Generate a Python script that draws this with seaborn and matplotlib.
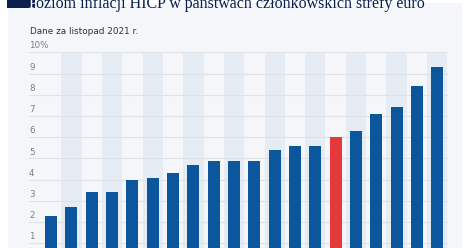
import matplotlib
matplotlib.use("Agg")
import matplotlib.pyplot as plt
import matplotlib.transforms as mtransforms
from matplotlib.patches import Rectangle
import seaborn as sns
import pandas as pd

# ---- data ----
countries = ["Malta", "Portugalia", "Francja", "Finlandia", "Grecja", "Włochy",
             "Cypr", "Słowacja", "Strefa euro", "Austria", "Słowenia", "Irlandia",
             "Hiszpania", "Holandia", "Niemcy", "Luksemburg", "Belgia", "Łotwa",
             "Estonia", "Litwa"]
hicp = [2.3, 2.7, 3.4, 3.4, 4.0, 4.1, 4.3, 4.7, 4.9, 4.9, 4.9, 5.4, 5.6, 5.6,
        6.0, 6.3, 7.1, 7.4, 8.4, 9.3]
highlight = "Niemcy"
y_ticks = [1, 2, 3, 4, 5, 6, 7, 8, 9, 10]
y_tick_labels = ["1", "2", "3", "4", "5", "6", "7", "8", "9", "10%"]
title = "Poziom inflacji HICP w państwach członkowskich strefy euro"
subtitle = "Dane za listopad 2021 r."

BLUE = "#0b569c"
RED = "#e5383d"
CARD = "#f4f6f9"
STRIPE = "#e6ecf3"
GRID = "#dfe3e8"

df = pd.DataFrame({"kraj": countries, "hicp": hicp})
df["grp"] = ["hl" if c == highlight else "n" for c in countries]

W, H = 474, 248
fig = plt.figure(figsize=(W / 100, H / 100), dpi=100)
fig.patch.set_facecolor("white")

# card background
fig.patches.append(Rectangle((8 / W, 0), (462 - 8) / W, (H - 3) / H,
                             transform=fig.transFigure, facecolor=CARD,
                             edgecolor="none", zorder=-10))

ax_left, ax_right = 29, 448
ax_top = 52.3
ax = fig.add_axes([ax_left / W, 0, (ax_right - ax_left) / W, (H - ax_top) / H])
ax.set_facecolor("none")

sns.barplot(data=df, x="kraj", y="hicp", hue="grp", order=countries,
            palette={"n": BLUE, "hl": RED}, width=0.59, legend=False,
            ax=ax, zorder=3, saturation=1)

n = len(countries)
ax.set_xlim(-1.09, n - 0.47)
ax.set_ylim(0.78, 10)

for i in range(1, n, 2):
    ax.axvspan(i - 0.5, i + 0.5, color=STRIPE, zorder=0, lw=0)

for t in y_ticks:
    ax.axhline(t, color=GRID, lw=0.8, zorder=1)

trans = mtransforms.blended_transform_factory(ax.transAxes, ax.transData)
for t, lab in zip(y_ticks, y_tick_labels):
    ax.text(0.0, t + 0.09, lab, transform=trans, ha="left", va="bottom",
            fontsize=6.3, color="#7a7f86", clip_on=False, zorder=5,
            family="DejaVu Sans")

ax.set_xticks([])
ax.set_yticks([])
ax.set_xlabel("")
ax.set_ylabel("")
for s in ax.spines.values():
    s.set_visible(False)

# title bar (cropped at top)
fig.patches.append(Rectangle((7 / W, (H - 8) / H), 28 / W, 12 / H,
                             transform=fig.transFigure, facecolor="#0b1f4f",
                             edgecolor="none", zorder=5))
fig.text(29 / W, (H - 7.5) / H, title[0], ha="left", va="baseline",
         fontsize=11.5, color="white", family="Liberation Serif", zorder=6)
fig.text(35.5 / W, (H - 7.5) / H, title[1:], ha="left", va="baseline",
         fontsize=11.5, color="#0b1f4f", family="Liberation Serif", zorder=6)

fig.text(30 / W, (H - 33.5) / H, subtitle, ha="left", va="baseline",
         fontsize=6.4, color="#2f3338",
         family=["Liberation Sans Narrow", "DejaVu Sans"])

fig.savefig("out.png", dpi=100, facecolor=fig.get_facecolor())
